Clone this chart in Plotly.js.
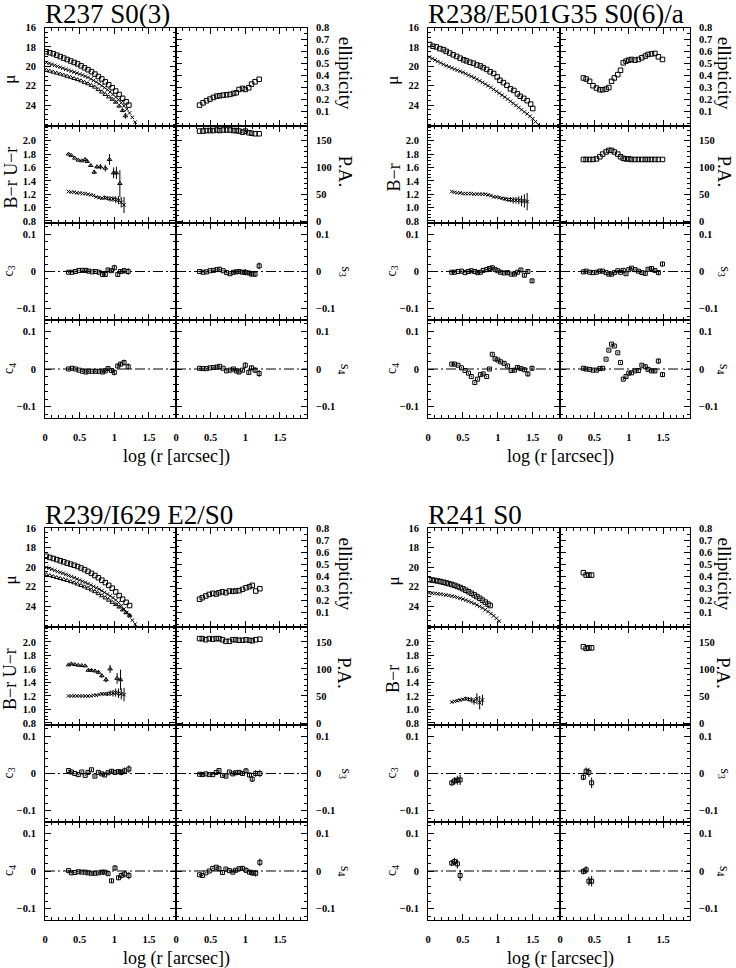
<!DOCTYPE html>
<html><head><meta charset="utf-8">
<script src="https://cdn.plot.ly/plotly-3.0.1.min.js"></script>
<style>html,body{margin:0;padding:0;background:#fff}#plot{width:736px;height:968px}</style>
</head><body><div id="plot"></div>
<script>
// ---------------- DATA (log r [arcsec] and profile values) ----------------
// R237
const r237_muR_x = [0.02,0.07,0.12,0.17,0.22,0.27,0.32,0.37,0.42,0.47,0.52,0.57,0.62,0.67,0.72,0.77,0.82,0.87,0.92,0.97,1.02,1.07,1.12,1.17,1.21];
const r237_muR   = [18.5,18.6,18.7,18.85,19.0,19.15,19.3,19.45,19.6,19.75,19.95,20.15,20.35,20.55,20.8,21.05,21.3,21.6,21.9,22.2,22.55,22.9,23.3,23.65,24.0];
const r237_muB_x = [0.02,0.06,0.10,0.14,0.18,0.22,0.26,0.30,0.34,0.38,0.42,0.46,0.50,0.54,0.58,0.62,0.66,0.70,0.74,0.78,0.82,0.86,0.90,0.94,0.98,1.02,1.06,1.10,1.14,1.18,1.22,1.26,1.30];
const r237_muB   = [19.6,19.7,19.8,19.9,20.0,20.1,20.2,20.3,20.4,20.5,20.6,20.7,20.8,20.9,21.02,21.15,21.3,21.45,21.62,21.8,22.0,22.2,22.42,22.65,22.9,23.17,23.45,23.75,24.07,24.42,24.8,25.25,25.75];
const r237_muU_x = [0.02,0.07,0.12,0.17,0.22,0.27,0.32,0.37,0.42,0.47,0.52,0.57,0.62,0.67,0.72,0.77,0.82,0.87,0.92,0.97,1.02,1.07,1.12,1.16];
const r237_muU   = [20.4,20.5,20.6,20.7,20.8,20.9,21.02,21.13,21.25,21.37,21.5,21.65,21.8,21.97,22.15,22.4,22.65,22.9,23.15,23.4,23.7,24.1,24.55,25.1];
const r237_muU_err = [0,0,0,0,0,0,0,0,0,0,0,0,0,0,0,0,0,0,0,0.05,0.08,0.12,0.18,0.3];
const r237_iso_x = [0.34,0.39,0.44,0.49,0.54,0.59,0.63,0.68,0.73,0.78,0.83,0.87,0.91,0.96,1.00,1.05,1.09,1.14,1.20];
const r237_ell = [0.154,0.173,0.19,0.204,0.218,0.229,0.232,0.237,0.24,0.243,0.251,0.257,0.284,0.293,0.284,0.298,0.329,0.348,0.369];
const r237_pa  = [168,168,169,169,169,170,169,170,170,170,169,169,168,166,168,165,164,163,163];
const r237_c3  = [-0.002,-0.002,0.0,0.003,0.003,0.003,0.001,-0.001,0.0,-0.002,-0.008,-0.008,0.004,0.002,0.01,-0.008,0.0,0.002,0.0];
const r237_s3  = [0.0,-0.002,-0.001,0.002,0.003,0.005,0.006,0.002,-0.003,-0.006,-0.002,-0.001,0.0,-0.002,-0.002,-0.004,-0.007,-0.007,0.015];
const r237_c4  = [0.0,0.002,0.0,-0.003,-0.006,-0.008,-0.006,-0.006,-0.006,-0.006,-0.008,-0.005,0.001,-0.004,-0.009,0.008,0.013,0.017,0.006];
const r237_s4  = [0.002,0.001,0.001,0.003,0.004,0.005,0.007,0.002,-0.005,-0.003,0.0,-0.005,-0.008,-0.003,0.01,-0.009,0.003,-0.003,-0.012];
const r237_iso_err = [0.002,0.002,0.002,0.002,0.002,0.002,0.002,0.002,0.002,0.003,0.003,0.003,0.004,0.004,0.008,0.005,0.006,0.008,0.009];
const r237_Ur_x = [0.34,0.38,0.43,0.48,0.53,0.58,0.61,0.66,0.71,0.75,0.80,0.87,0.93,0.99,1.03,1.08];
const r237_Ur   = [1.80,1.78,1.74,1.71,1.70,1.72,1.69,1.63,1.53,1.61,1.61,1.59,1.72,1.52,1.52,1.36];
const r237_Ur_err = [0.01,0.01,0.01,0.01,0.01,0.02,0.02,0.02,0.03,0.03,0.04,0.05,0.08,0.08,0.09,0.2];
const r237_Br_x = [0.34,0.38,0.42,0.46,0.50,0.54,0.58,0.62,0.66,0.70,0.74,0.78,0.82,0.86,0.90,0.94,0.98,1.02,1.06,1.10,1.14];
const r237_Br   = [1.24,1.23,1.23,1.22,1.22,1.21,1.21,1.20,1.19,1.18,1.16,1.15,1.14,1.15,1.14,1.13,1.13,1.12,1.11,1.08,1.04];
const r237_Br_err = [0,0,0,0,0,0,0,0,0,0.01,0.01,0.02,0.02,0.03,0.03,0.04,0.04,0.05,0.06,0.08,0.12];

// R238
const r238_muR_x = [0.024,0.072,0.12,0.17,0.22,0.26,0.31,0.36,0.41,0.46,0.51,0.55,0.6,0.65,0.7,0.75,0.79,0.84,0.89,0.94,0.99,1.03,1.08,1.13,1.18,1.23,1.28,1.32,1.37,1.42,1.47,1.5];
const r238_muR   = [17.75,17.93,18.0,18.18,18.28,18.46,18.63,18.81,18.98,19.16,19.33,19.44,19.58,19.68,19.86,19.96,20.14,20.32,20.56,20.74,21.09,21.44,21.68,21.96,22.32,22.49,22.84,23.09,23.3,23.54,23.89,24.35];
const r238_muB_x = [0.02,0.06,0.10,0.14,0.18,0.22,0.26,0.30,0.34,0.38,0.42,0.46,0.50,0.54,0.58,0.62,0.66,0.70,0.74,0.78,0.82,0.86,0.90,0.94,0.98,1.02,1.06,1.10,1.14,1.18,1.22,1.26,1.30,1.34,1.38,1.42,1.46,1.50,1.54,1.58];
const r238_muB   = [19.05,19.2,19.35,19.5,19.65,19.8,19.93,20.05,20.17,20.29,20.4,20.51,20.62,20.76,20.9,21.04,21.18,21.33,21.5,21.66,21.83,22.0,22.18,22.38,22.57,22.77,22.97,23.17,23.38,23.6,23.82,24.03,24.25,24.47,24.7,24.9,25.15,25.4,25.7,26.0];
const r238_iso_x = [0.34,0.38,0.43,0.48,0.53,0.58,0.62,0.67,0.71,0.75,0.79,0.84,0.88,0.92,0.96,1.0,1.04,1.09,1.14,1.19,1.24,1.28,1.33,1.38,1.43,1.49];
const r238_ell = [0.38,0.371,0.352,0.315,0.296,0.282,0.282,0.287,0.30,0.352,0.38,0.408,0.444,0.506,0.52,0.528,0.534,0.528,0.534,0.548,0.562,0.576,0.58,0.584,0.556,0.534];
const r238_pa  = [115,115,115,115,116,120,125,129,132,132,129,125,120,117,116,116,115,115,115,115,115,115,115,115,115,115];
const r238_c3  = [-0.002,-0.002,0.0,0.001,-0.003,0.0,0.002,0.0,-0.003,-0.002,0.003,0.005,0.008,0.01,0.005,0.002,-0.002,-0.004,-0.003,-0.007,-0.007,-0.002,0.004,-0.01,0.0,-0.025];
const r238_s3  = [-0.001,0.001,-0.002,-0.003,-0.002,0.001,0.001,-0.003,-0.007,-0.007,-0.003,0.002,-0.002,0.003,-0.006,0.005,0.009,0.005,0.001,-0.003,-0.005,0.006,0.008,0.003,-0.003,0.02];
const r238_c4  = [0.013,0.013,0.01,0.003,-0.004,-0.011,-0.02,-0.036,-0.027,-0.015,-0.013,-0.02,0.0,0.039,0.027,0.024,0.019,0.015,0.008,-0.004,-0.003,0.004,0.001,-0.002,-0.013,0.002];
const r238_s4  = [0.002,0.0,-0.001,-0.003,-0.003,0.001,0.002,0.026,0.05,0.066,0.061,0.043,0.017,-0.027,-0.02,-0.011,-0.01,-0.005,-0.004,0.01,0.006,-0.001,-0.005,-0.005,0.021,-0.015];
const r238_iso_err = [0.002,0.002,0.002,0.002,0.002,0.002,0.002,0.002,0.002,0.002,0.002,0.002,0.002,0.003,0.003,0.003,0.003,0.003,0.003,0.003,0.004,0.004,0.004,0.005,0.007,0.006];
const r238_Br_x = [0.34,0.38,0.42,0.46,0.50,0.54,0.58,0.62,0.66,0.70,0.74,0.78,0.82,0.86,0.90,0.94,0.98,1.02,1.06,1.10,1.14,1.18,1.22,1.26,1.30,1.34,1.38,1.42];
const r238_Br   = [1.24,1.23,1.22,1.22,1.21,1.21,1.21,1.21,1.20,1.20,1.20,1.20,1.20,1.19,1.18,1.16,1.16,1.15,1.14,1.13,1.12,1.12,1.11,1.11,1.11,1.10,1.10,1.09];
const r238_Br_err = [0,0,0,0,0,0,0,0,0,0,0,0.005,0.005,0.01,0.01,0.01,0.015,0.02,0.02,0.03,0.03,0.04,0.05,0.05,0.06,0.08,0.1,0.13];

// R239
const r239_muR_x = [0.02,0.07,0.12,0.17,0.22,0.27,0.32,0.37,0.42,0.47,0.52,0.57,0.62,0.67,0.72,0.77,0.82,0.87,0.92,0.97,1.02,1.07,1.12,1.17,1.22];
const r239_muR   = [18.9,19.02,19.13,19.24,19.36,19.47,19.6,19.71,19.82,19.95,20.1,20.27,20.45,20.65,20.87,21.1,21.35,21.6,21.88,22.17,22.55,22.93,23.3,23.62,23.95];
const r239_muB_x = [0.02,0.06,0.10,0.14,0.18,0.22,0.26,0.30,0.34,0.38,0.42,0.46,0.50,0.54,0.58,0.62,0.66,0.70,0.74,0.78,0.82,0.86,0.90,0.94,0.98,1.02,1.06,1.10,1.14,1.18,1.22,1.26,1.30];
const r239_muB   = [20.03,20.13,20.24,20.34,20.45,20.55,20.65,20.76,20.87,20.98,21.1,21.22,21.34,21.46,21.58,21.71,21.85,21.99,22.13,22.27,22.44,22.61,22.78,22.96,23.15,23.38,23.65,23.95,24.3,24.67,25.05,25.45,25.85];
const r239_muU_x = [0.02,0.07,0.12,0.17,0.22,0.27,0.32,0.37,0.42,0.47,0.52,0.57,0.62,0.67,0.72,0.77,0.82,0.87,0.92,0.97,1.02,1.07,1.12,1.17,1.22];
const r239_muU   = [20.78,20.88,20.98,21.08,21.18,21.28,21.38,21.5,21.62,21.75,21.89,22.03,22.18,22.35,22.53,22.73,22.95,23.17,23.4,23.62,23.85,24.1,24.4,24.68,24.95];
const r239_muU_err = [0,0,0,0,0,0,0,0,0,0,0,0,0,0,0,0,0,0,0,0,0.05,0.08,0.1,0.15,0.2];
const r239_iso_x = [0.34,0.38,0.43,0.48,0.53,0.58,0.62,0.67,0.72,0.77,0.82,0.86,0.91,0.96,1.01,1.06,1.10,1.15,1.21];
const r239_ell = [0.21,0.223,0.237,0.25,0.259,0.253,0.264,0.272,0.264,0.278,0.275,0.278,0.281,0.292,0.305,0.314,0.325,0.278,0.297];
const r239_pa  = [156,156,154,156,155,156,156,154,151,151,154,154,153,153,154,153,152,154,155];
const r239_c3  = [0.008,0.004,0.0,-0.003,0.004,-0.005,0.003,0.01,-0.007,0.003,-0.001,-0.004,0.002,0.006,0.003,0.005,0.003,0.007,0.012];
const r239_s3  = [-0.002,-0.003,-0.001,-0.003,-0.003,0.003,0.008,-0.005,-0.007,0.004,-0.001,0.002,0.003,0.0,0.007,-0.004,-0.015,0.0,0.0];
const r239_c4  = [0.001,-0.005,-0.004,-0.002,-0.003,-0.003,-0.005,-0.006,-0.006,-0.005,-0.003,-0.003,-0.007,-0.026,0.008,-0.018,-0.012,-0.008,-0.012];
const r239_s4  = [-0.01,-0.012,-0.005,0.0,0.007,0.01,0.006,-0.004,0.005,0.001,-0.003,0.002,0.006,0.007,0.002,-0.003,-0.005,-0.006,0.023];
const r239_iso_err = [0.002,0.002,0.002,0.002,0.002,0.002,0.003,0.003,0.003,0.003,0.003,0.004,0.004,0.005,0.007,0.006,0.008,0.009,0.01];
const r239_Ur_x = [0.34,0.38,0.43,0.48,0.53,0.58,0.625,0.67,0.72,0.77,0.82,0.88,0.94,1.04,1.09];
const r239_Ur   = [1.66,1.675,1.665,1.655,1.65,1.645,1.58,1.58,1.57,1.55,1.5,1.44,1.6,1.46,1.44];
const r239_Ur_err = [0.01,0.01,0.01,0.01,0.01,0.01,0.02,0.02,0.02,0.03,0.03,0.04,0.06,0.08,0.15];
const r239_Br_x = [0.34,0.38,0.42,0.46,0.50,0.54,0.58,0.62,0.66,0.70,0.74,0.78,0.82,0.86,0.90,0.94,0.98,1.02,1.06,1.10,1.14];
const r239_Br   = [1.2,1.2,1.2,1.2,1.2,1.2,1.2,1.2,1.2,1.21,1.21,1.22,1.23,1.23,1.23,1.24,1.24,1.25,1.24,1.23,1.22];
const r239_Br_err = [0,0,0,0,0,0,0,0,0,0,0.01,0.01,0.02,0.02,0.03,0.04,0.05,0.06,0.07,0.08,0.1];

// R241
const r241_muR_x = [0.02,0.06,0.10,0.14,0.18,0.22,0.26,0.30,0.34,0.38,0.42,0.46,0.50,0.54,0.58,0.62,0.66,0.70,0.74,0.78,0.82,0.86,0.89];
const r241_muR   = [21.29,21.33,21.38,21.43,21.49,21.56,21.63,21.71,21.79,21.88,21.99,22.1,22.23,22.38,22.53,22.69,22.86,23.03,23.21,23.4,23.6,23.8,23.95];
const r241_muB_x = [0.02,0.06,0.10,0.14,0.18,0.22,0.26,0.30,0.34,0.38,0.42,0.46,0.50,0.54,0.58,0.62,0.66,0.70,0.74,0.78,0.82,0.86,0.90,0.94,0.98,1.02];
const r241_muB   = [22.66,22.68,22.71,22.74,22.78,22.82,22.87,22.92,22.98,23.05,23.12,23.2,23.29,23.39,23.5,23.62,23.75,23.89,24.04,24.2,24.38,24.57,24.78,25.0,25.25,25.55];
const r241_iso_x = [0.34,0.38,0.42,0.46];
const r241_ell = [0.43,0.41,0.41,0.41];
const r241_pa  = [141,138,139,139];
const r241_c3  = [-0.025,-0.02,-0.018,-0.017];
const r241_s3  = [-0.01,0.006,0.003,-0.025];
const r241_c4  = [0.021,0.025,0.019,-0.012];
const r241_s4  = [-0.001,0.003,-0.027,-0.027];
const r241_iso_err = [0.008,0.01,0.012,0.014];
const r241_Br_x = [0.34,0.38,0.42,0.46,0.50,0.54,0.58,0.62,0.66,0.70,0.74,0.78];
const r241_Br   = [1.11,1.12,1.13,1.14,1.15,1.16,1.15,1.14,1.12,1.16,1.1,1.14];
const r241_Br_err = [0.01,0.01,0.02,0.02,0.02,0.03,0.03,0.04,0.05,0.08,0.1,0.08];

const titles = ['R237 S0(3)', 'R238/E501G35 S0(6)/a', 'R239/I629 E2/S0', 'R241 S0'];
const colorTitles = ['B\u2212r U\u2212r', 'B\u2212r', 'B\u2212r U\u2212r', 'B\u2212r'];
const xTickVals = [0, 0.5, 1, 1.5];
const xTickText = ['0', '0.5', '1', '1.5'];
const muTicks = [16, 18, 20, 22, 24];
const ellTicks = [0.1, 0.2, 0.3, 0.4, 0.5, 0.6, 0.7, 0.8];
const colTicks = [0.8, 1.0, 1.2, 1.4, 1.6, 1.8, 2.0];
const paTicks = [0, 50, 100, 150];
const harmTicks = [-0.1, 0, 0.1];
const harmText = ['\u22120.1', '0', '0.1'];

// --------------- STRUCTURE ---------------
const SQ = 'square-open', XX = 'x-thin-open', TR = 'triangle-up-open';
const galaxies = [
  {mu: [[r237_muR_x, r237_muR, SQ, 4.5, null], [r237_muB_x, r237_muB, XX, 3.5, null], [r237_muU_x, r237_muU, TR, 4, r237_muU_err]],
   col: [[r237_Ur_x, r237_Ur, TR, 4, r237_Ur_err], [r237_Br_x, r237_Br, XX, 3.5, r237_Br_err]],
   iso: r237_iso_x, ell: r237_ell, pa: r237_pa, c3: r237_c3, s3: r237_s3, c4: r237_c4, s4: r237_s4, err: r237_iso_err},
  {mu: [[r238_muR_x, r238_muR, SQ, 4.5, null], [r238_muB_x, r238_muB, XX, 3.5, null]],
   col: [[r238_Br_x, r238_Br, XX, 3.5, r238_Br_err]],
   iso: r238_iso_x, ell: r238_ell, pa: r238_pa, c3: r238_c3, s3: r238_s3, c4: r238_c4, s4: r238_s4, err: r238_iso_err},
  {mu: [[r239_muR_x, r239_muR, SQ, 4.5, null], [r239_muB_x, r239_muB, XX, 3.5, null], [r239_muU_x, r239_muU, TR, 4, r239_muU_err]],
   col: [[r239_Ur_x, r239_Ur, TR, 4, r239_Ur_err], [r239_Br_x, r239_Br, XX, 3.5, r239_Br_err]],
   iso: r239_iso_x, ell: r239_ell, pa: r239_pa, c3: r239_c3, s3: r239_s3, c4: r239_c4, s4: r239_s4, err: r239_iso_err},
  {mu: [[r241_muR_x, r241_muR, SQ, 4.5, null], [r241_muB_x, r241_muB, XX, 3.5, null]],
   col: [[r241_Br_x, r241_Br, XX, 3.5, r241_Br_err]],
   iso: r241_iso_x, ell: r241_ell, pa: r241_pa, c3: r241_c3, s3: r241_s3, c4: r241_c4, s4: r241_s4, err: r241_iso_err}
];

const W = 736, H = 968;
const GEO = [
  {x0: 45, xm: 176, x1: 307, rows: [27.5, 126, 223, 320, 418], ty: 14, ro: 38},
  {x0: 428, xm: 560, x1: 690, rows: [27.5, 126, 223, 320, 418], ty: 14, ro: 34},
  {x0: 45, xm: 176, x1: 307, rows: [528, 627, 725, 822, 920], ty: 515, ro: 38},
  {x0: 428, xm: 560, x1: 690, rows: [528, 627, 725, 822, 920], ty: 515, ro: 34}
];
const FONT = 'Liberation Serif, DejaVu Serif, serif';
const tickFont = {family: FONT, size: 10.5, color: 'black', weight: 'bold'};

const ySpec = [
  [{range: [26.15, 16], tv: muTicks, tt: muTicks.map(String), minor: 0.5},
   {range: [-0.02, 0.8], tv: ellTicks, tt: ellTicks.map(v => v.toFixed(1)), minor: 0.05}],
  [{range: [0.77, 2.22], tv: colTicks, tt: colTicks.map(v => v.toFixed(1)), minor: 0.05},
   {range: [-3.7, 177.5], tv: paTicks, tt: paTicks.map(String), minor: 10}],
  [{range: [-0.13, 0.13], tv: harmTicks, tt: harmText, minor: 0.02},
   {range: [-0.13, 0.13], tv: harmTicks, tt: harmText, minor: 0.02}],
  [{range: [-0.13, 0.13], tv: harmTicks, tt: harmText, minor: 0.02},
   {range: [-0.13, 0.13], tv: harmTicks, tt: harmText, minor: 0.02}]
];

const layout = {width: W, height: H, margin: {l: 0, r: 0, t: 0, b: 0}, paper_bgcolor: 'white', plot_bgcolor: 'white',
  showlegend: false, annotations: [], shapes: [], font: {family: FONT, color: 'black'}};
const traces = [];
const suf = n => (n === 1 ? '' : String(n));

function addTrace(n, x, y, sym, size, err) {
  const t = {type: 'scatter', mode: 'markers', x: x, y: y, xaxis: 'x' + suf(n), yaxis: 'y' + suf(n), hoverinfo: 'skip',
    marker: {symbol: sym, size: size, color: 'black', line: {color: 'black', width: 1}}};
  if (err) t.error_y = {type: 'data', array: err, visible: true, width: 0, thickness: 1, color: 'black'};
  traces.push(t);
}
function ann(px, py, text, size, angle, xanchor) {
  layout.annotations.push({xref: 'paper', yref: 'paper', x: px / W, y: 1 - py / H, text: text, showarrow: false,
    textangle: angle || 0, xanchor: xanchor || 'center', yanchor: 'middle', borderpad: 0,
    font: {family: FONT, size: size, color: 'black'}});
}

galaxies.forEach((g, gi) => {
  const geo = GEO[gi];
  for (let r = 0; r < 4; r++) {
    for (let c = 0; c < 2; c++) {
      const n = gi * 8 + r * 2 + c + 1;
      const xd = c === 0 ? [geo.x0 / W, geo.xm / W] : [geo.xm / W, geo.x1 / W];
      const yd = [1 - geo.rows[r + 1] / H, 1 - geo.rows[r] / H];
      const sp = ySpec[r][c];
      layout['xaxis' + suf(n)] = {domain: xd, anchor: 'y' + suf(n), range: [0, 1.89], tickmode: 'array', tickvals: xTickVals,
        ticktext: xTickText, showticklabels: r === 3, ticks: 'inside', ticklen: 6, tickwidth: 1, tickcolor: 'black',
        minor: {ticks: 'inside', dtick: 0.1, tick0: 0, ticklen: 3, tickwidth: 1, tickcolor: 'black', showgrid: false},
        showline: true, linecolor: 'black', linewidth: 1, mirror: 'ticks', showgrid: false, zeroline: false,
        tickfont: tickFont, ticklabelstandoff: 9, fixedrange: true};
      layout['yaxis' + suf(n)] = {domain: yd, anchor: 'x' + suf(n), range: sp.range, side: c === 0 ? 'left' : 'right',
        tickmode: 'array', tickvals: sp.tv, ticktext: sp.tt, ticks: 'inside', ticklen: 6, tickwidth: 1, tickcolor: 'black',
        minor: {ticks: 'inside', dtick: sp.minor, tick0: 0, ticklen: 3, tickwidth: 1, tickcolor: 'black', showgrid: false},
        showline: true, linecolor: 'black', linewidth: 1, mirror: 'ticks', showgrid: false, zeroline: false,
        tickfont: tickFont, ticklabelstandoff: 6, fixedrange: true};
      if (r >= 2) {
        layout.shapes.push({type: 'line', xref: 'x' + suf(n) + ' domain', x0: 0, x1: 1, yref: 'y' + suf(n), y0: 0, y1: 0,
          line: {color: 'black', width: 1, dash: '10px,3px,2px,3px'}, layer: 'below'});
      }
    }
  }
  const base = gi * 8;
  g.mu.forEach(s => addTrace(base + 1, s[0], s[1], s[2], s[3], s[4]));
  addTrace(base + 2, g.iso, g.ell, SQ, 4.5, null);
  g.col.forEach(s => addTrace(base + 3, s[0], s[1], s[2], s[3], s[4]));
  addTrace(base + 4, g.iso, g.pa, SQ, 4.5, null);
  addTrace(base + 5, g.iso, g.c3, SQ, 4, g.err);
  addTrace(base + 6, g.iso, g.s3, SQ, 4, g.err);
  addTrace(base + 7, g.iso, g.c4, SQ, 4, g.err);
  addTrace(base + 8, g.iso, g.s4, SQ, 4, g.err);

  // titles and axis labels
  const rc = k => (geo.rows[k] + geo.rows[k + 1]) / 2;
  ann(geo.x0 - 1, geo.ty, titles[gi], 27, 0, 'left');
  ann(geo.x0 - 35, rc(0) + 3, '\u03bc', 17, -90);
  ann(geo.x0 - 35, rc(1) + 3, colorTitles[gi], 18, -90);
  ann(geo.x0 - 36, rc(2), 'c<sub>3</sub>', 14, -90);
  ann(geo.x0 - 36, rc(3), 'c<sub>4</sub>', 14, -90);
  ann(geo.x1 + geo.ro, rc(0) - 4, 'ellipticity', 19, 90);
  ann(geo.x1 + geo.ro, rc(1) - 3, 'P.A.', 19, 90);
  ann(geo.x1 + geo.ro, rc(2), 's<sub>3</sub>', 14, 90);
  ann(geo.x1 + geo.ro, rc(3), 's<sub>4</sub>', 14, 90);
  ann(geo.xm, geo.rows[4] + 38, 'log (r [arcsec])', 18, 0);
});

Plotly.newPlot('plot', traces, layout, {staticPlot: true, displayModeBar: false});
</script></body></html>
